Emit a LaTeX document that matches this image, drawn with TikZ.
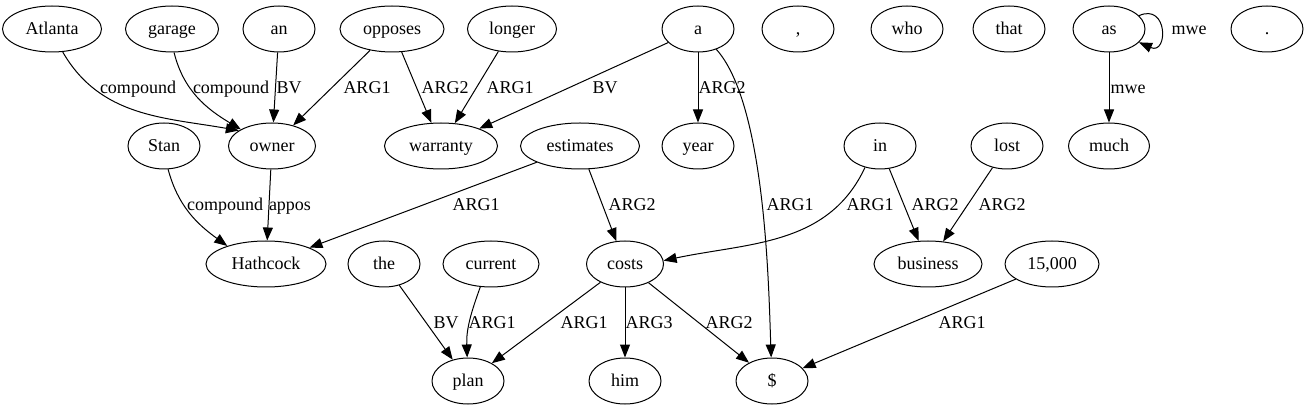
\documentclass[tikz,border=0pt]{standalone}
\usepackage{fontspec}
\setmainfont{Liberation Serif}
\usetikzlibrary{arrows.meta,shapes.geometric}
\tikzset{
  word/.style={draw, ellipse, line width=1pt, minimum height=46pt, minimum width=#1, inner sep=0pt, text height=13.5pt, text depth=2pt, font=\fontsize{18}{20}\selectfont},
  word/.default=72pt,
  dep/.style={-{Triangle[length=13pt,width=10pt]}, line width=1pt},
  rel/.style={inner sep=0pt, text height=13.5pt, text depth=2.5pt, font=\fontsize{18}{20}\selectfont},
}
\begin{document}
\begin{tikzpicture}[x=1pt,y=1pt]
\useasboundingbox (0,0) rectangle (1308,-411);
% first row
\node[word=99pt] (atlanta) at (52,-29) {Atlanta};
\node[word=93pt] (garage) at (172,-29) {garage};
\node[word] (an) at (279,-29) {an};
\node[word=104pt] (opposes) at (392,-29) {opposes};
\node[word=89pt] (longer) at (512,-29) {longer};
\node[word] (a) at (698,-29) {a};
\node[word] (comma) at (798,-29) {,};
\node[word] (who) at (907,-29) {who};
\node[word] (that) at (1009,-29) {that};
\node[word] (as) at (1109,-29) {as};
\node[word] (period) at (1267,-29) {.};
% second row
\node[word] (stan) at (164,-146) {Stan};
\node[word=87pt] (owner) at (272,-146) {owner};
\node[word=113pt] (warranty) at (441,-146) {warranty};
\node[word=119pt] (estimates) at (580,-146) {estimates};
\node[word] (year) at (698,-146) {year};
\node[word] (in) at (880,-146) {in};
\node[word] (lost) at (1007,-146) {lost};
\node[word=81pt] (much) at (1109,-146) {much};
% third row
\node[word=120pt] (hathcock) at (266,-264) {Hathcock};
\node[word] (the) at (384,-264) {the};
\node[word=96pt] (current) at (491,-264) {current};
\node[word=77pt] (costs) at (625,-264) {costs};
\node[word=108pt] (business) at (928,-264) {business};
\node[word=94pt] (num) at (1052,-264) {15,000};
% last row
\node[word] (plan) at (468,-381) {plan};
\node[word] (him) at (625,-381) {him};
\node[word] (dollar) at (772,-381) {\$};
% edges
\draw[dep] (atlanta.-65) to[out=-60, in=170] (owner.155);
\draw[dep] (garage.-85) to[out=-76, in=149] (owner.152);
\draw[dep] (an) -- (owner);
\draw[dep] (opposes) -- (owner);
\draw[dep] (opposes) -- (warranty);
\draw[dep] (longer) -- (warranty);
\draw[dep] (a) -- (warranty);
\draw[dep] (a) -- (year);
\draw[dep] (a.-48) to[out=-48, in=92, looseness=0.6] (dollar);
\draw[dep] (as) to[out=24, in=-24, distance=32pt] (as);
\draw[dep] (as) -- (much);
\draw[dep] (stan.-80) to[out=-75, in=144] (hathcock.155);
\draw[dep] (owner) -- (hathcock);
\draw[dep] (estimates) -- (hathcock);
\draw[dep] (estimates) -- (costs);
\draw[dep] (in.-125) to[out=-115, in=12] (costs.5);
\draw[dep] (in) -- (business);
\draw[dep] (lost) -- (business);
\draw[dep] (the) -- (plan);
\draw[dep] (current.-115) to[out=-110, in=92] (plan);
\draw[dep] (costs) -- (plan);
\draw[dep] (costs) -- (him);
\draw[dep] (costs) -- (dollar);
\draw[dep] (num) -- (dollar);
% edge labels
\node[rel] (lAtlanta) at (138,-88) {compound};
\node[rel] (lGarage) at (231,-88) {compound};
\node[rel] (lAn) at (289,-88) {BV};
\node[rel] (lOppOwner) at (367,-88) {ARG1};
\node[rel] (lOppWarr) at (445,-88) {ARG2};
\node[rel] (lLonger) at (510,-88) {ARG1};
\node[rel] (lAWarr) at (605,-88) {BV};
\node[rel] (lAYear) at (722,-88) {ARG2};
\node[rel] (lAsLoop) at (1189,-29) {mwe};
\node[rel] (lAsMuch) at (1128,-88) {mwe};
\node[rel] (lStan) at (225,-205) {compound};
\node[rel] (lOwner) at (290,-205) {appos};
\node[rel] (lEstHath) at (476,-205) {ARG1};
\node[rel] (lEstCosts) at (632,-205) {ARG2};
\node[rel] (lADollar) at (790,-205) {ARG1};
\node[rel] (lInCosts) at (870,-205) {ARG1};
\node[rel] (lInBus) at (935,-205) {ARG2};
\node[rel] (lLost) at (1002,-205) {ARG2};
\node[rel] (lThe) at (446,-323) {BV};
\node[rel] (lCurrent) at (492,-323) {ARG1};
\node[rel] (lCostsPlan) at (584,-323) {ARG1};
\node[rel] (lCostsHim) at (649,-323) {ARG3};
\node[rel] (lCostsDollar) at (729,-323) {ARG2};
\node[rel] (lNum) at (962,-323) {ARG1};
\end{tikzpicture}
\end{document}
